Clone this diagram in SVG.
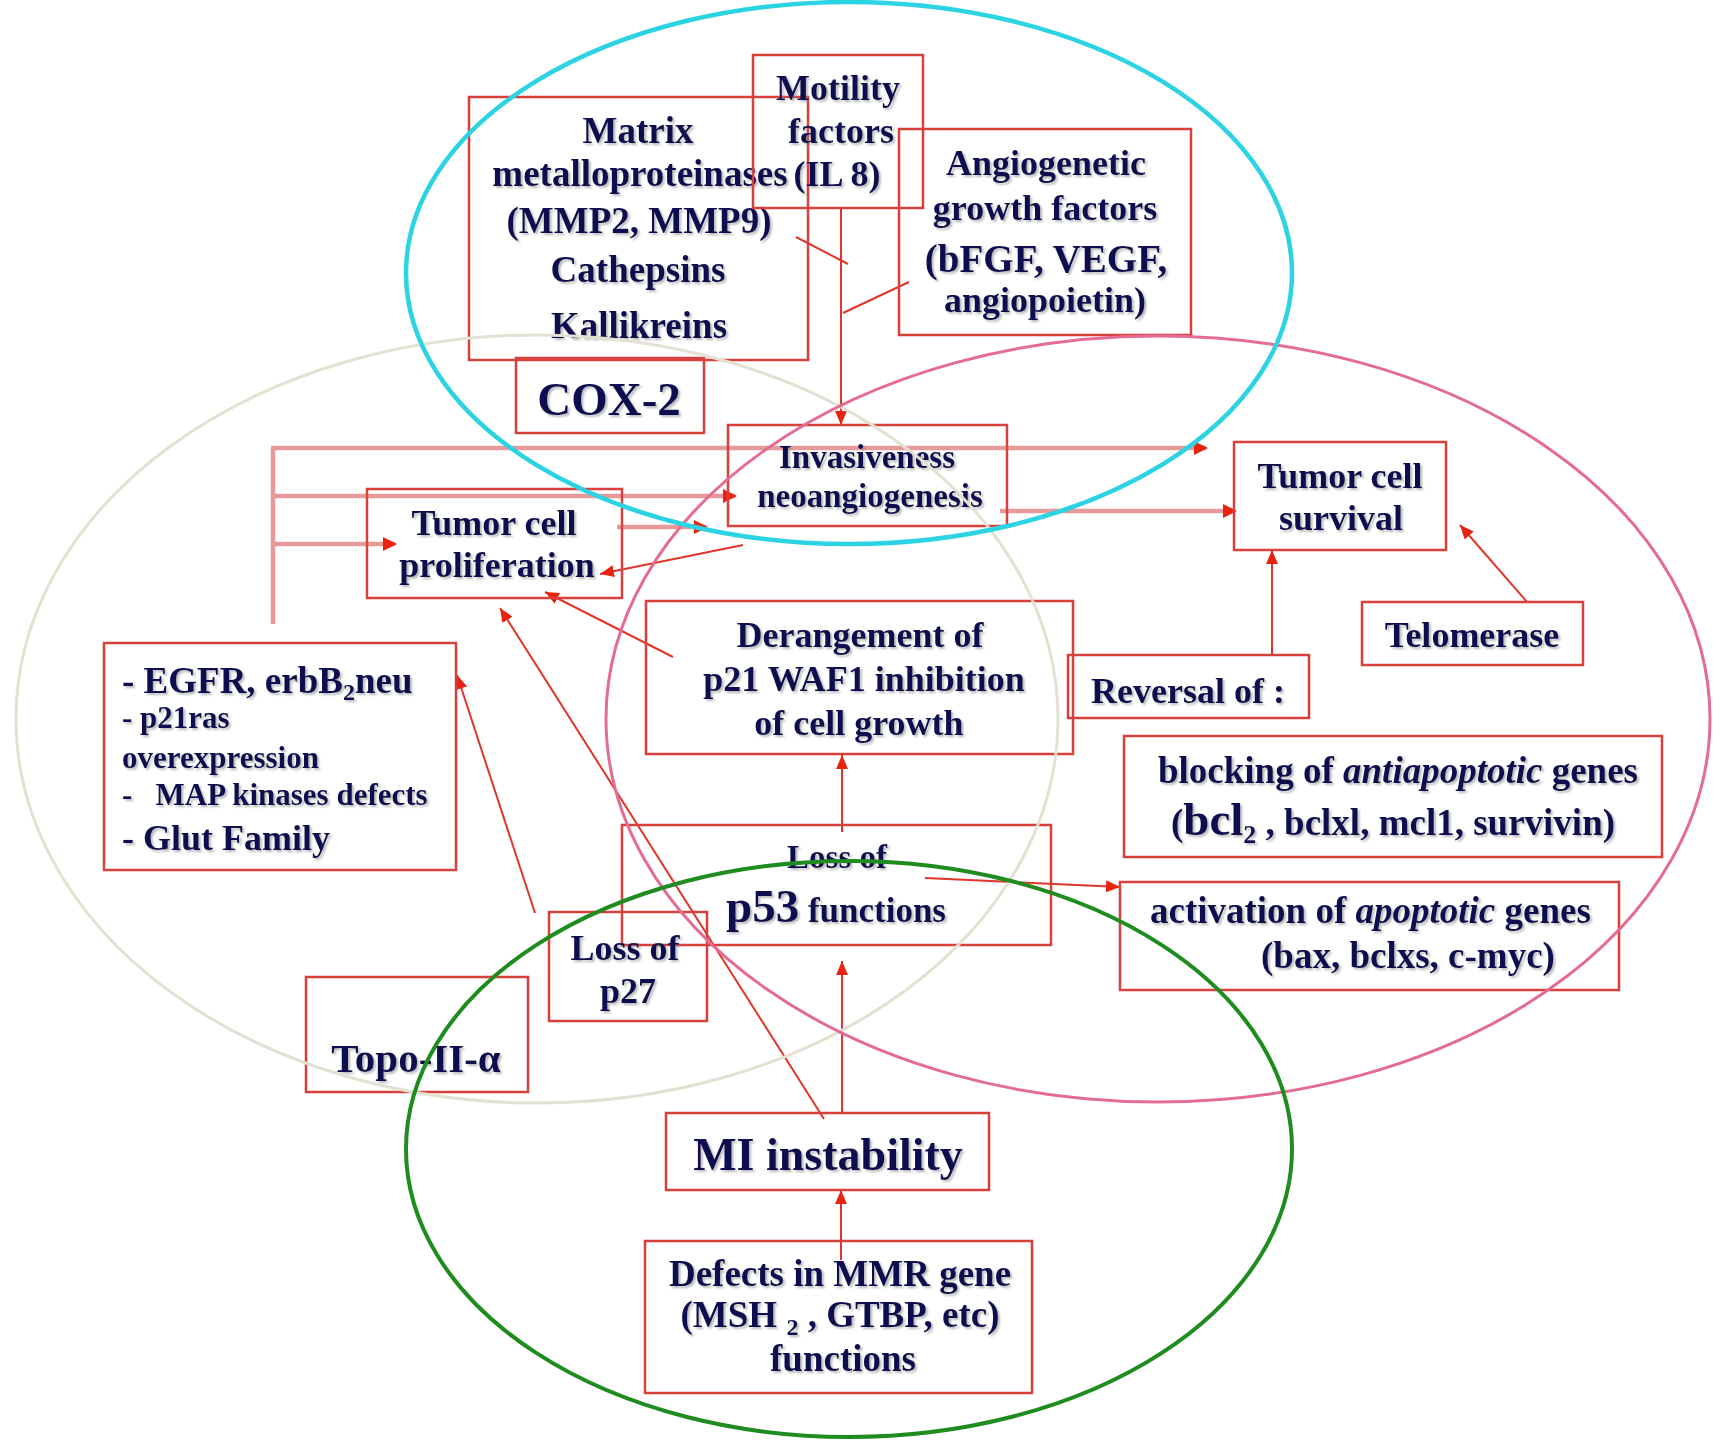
<svg xmlns="http://www.w3.org/2000/svg" width="1713" height="1440" viewBox="0 0 1713 1440" font-size="36">
<defs>
<style>
.bx{fill:none;stroke:#d8403c;stroke-width:2.5}
.t{font-family:"Liberation Serif","Times New Roman",serif;font-weight:bold;fill:#0d1150;text-anchor:middle;filter:url(#sh)}
.l{text-anchor:start}
.thin{fill:none;stroke:#e0352a;stroke-width:2}
.thick{fill:none;stroke:#e89a9a;stroke-width:4.5}
.el{fill:none}
</style>
<filter id="sh" x="-5%" y="-20%" width="110%" height="140%">
<feDropShadow dx="2" dy="2" stdDeviation="1.2" flood-color="#808080" flood-opacity="0.55"/>
</filter>
<marker id="ah" viewBox="0 0 14 12" refX="14" refY="6" markerWidth="14" markerHeight="12" markerUnits="userSpaceOnUse" orient="auto">
<path d="M0,0 L14,6 L0,12 z" fill="#e8230f"/>
</marker>
</defs>
<rect width="1713" height="1440" fill="#ffffff"/>

<g id="connectors">
<line class="thin" x1="841" y1="208" x2="841" y2="425" marker-end="url(#ah)"/>
<line class="thin" x1="796" y1="237" x2="848" y2="264"/>
<line class="thin" x1="909" y1="282" x2="843" y2="313"/>
<line class="thick" x1="273" y1="448" x2="273" y2="624"/>
<line class="thick" x1="271" y1="448" x2="1206" y2="448"/>
<path d="M1194,441 L1208,448 L1194,455 z" fill="#e8230f"/>
<line class="thick" x1="273" y1="496" x2="735" y2="496"/>
<path d="M723,489 L737,496 L723,503 z" fill="#e8230f"/>
<line class="thick" x1="273" y1="544" x2="395" y2="544"/>
<path d="M383,537 L397,544 L383,551 z" fill="#e8230f"/>
<line class="thick" x1="617" y1="527" x2="706" y2="527"/>
<path d="M694,520 L708,527 L694,534 z" fill="#e8230f"/>
<line class="thin" x1="743" y1="545" x2="600" y2="574" marker-end="url(#ah)"/>
<line class="thick" x1="1000" y1="511" x2="1235" y2="511"/>
<path d="M1223,504 L1237,511 L1223,518 z" fill="#e8230f"/>
<line class="thin" x1="1272" y1="655" x2="1272" y2="550" marker-end="url(#ah)"/>
<line class="thin" x1="1527" y1="602" x2="1460" y2="525" marker-end="url(#ah)"/>
<line class="thin" x1="673" y1="657" x2="545" y2="592" marker-end="url(#ah)"/>
<line class="thin" x1="842" y1="832" x2="842" y2="755" marker-end="url(#ah)"/>
<line class="thin" x1="925" y1="878" x2="1120" y2="887" marker-end="url(#ah)"/>
<line class="thin" x1="842" y1="1113" x2="842" y2="961" marker-end="url(#ah)"/>
<line class="thin" x1="824" y1="1119" x2="500" y2="608" marker-end="url(#ah)"/>
<line class="thin" x1="535" y1="913" x2="457" y2="675" marker-end="url(#ah)"/>
<line class="thin" x1="841" y1="1260" x2="841" y2="1190" marker-end="url(#ah)"/>
</g>

<g id="matrix" font-size="37">
<rect class="bx" x="469" y="97" width="339" height="263"/>
<text class="t" x="638" y="143">Matrix</text>
<text class="t" x="640" y="186">metalloproteinases</text>
<text class="t" x="639" y="233">(MMP2, MMP9)</text>
<text class="t" x="638" y="282">Cathepsins</text>
<text class="t" x="639" y="338">Kallikreins</text>
</g>

<g id="motility">
<rect class="bx" x="753" y="55" width="170" height="153"/>
<text class="t" x="838" y="100">Motility</text>
<text class="t" x="841" y="143">factors</text>
<text class="t" x="837" y="186">(IL 8)</text>
</g>

<g id="angiogenetic">
<rect class="bx" x="899" y="129" width="292" height="206"/>
<text class="t" x="1046" y="175">Angiogenetic</text>
<text class="t" x="1045" y="220">growth factors</text>
<text class="t" x="1046" y="272" font-size="39">(bFGF, VEGF,</text>
<text class="t" x="1045" y="312">angiopoietin)</text>
</g>

<g id="cox2">
<rect class="bx" x="516" y="358" width="188" height="75"/>
<text class="t" x="609" y="415" font-size="47">COX-2</text>
</g>

<g id="invasiveness">
<rect class="bx" x="728" y="425" width="279" height="101"/>
<text class="t" x="867" y="468" font-size="33">Invasiveness</text>
<text class="t" x="870" y="507" font-size="33">neoangiogenesis</text>
</g>

<g id="proliferation">
<rect class="bx" x="367" y="489" width="255" height="109"/>
<text class="t" x="494" y="535">Tumor cell</text>
<text class="t" x="497" y="577">proliferation</text>
</g>

<g id="survival">
<rect class="bx" x="1234" y="442" width="212" height="108"/>
<text class="t" x="1340" y="488">Tumor cell</text>
<text class="t" x="1341" y="530">survival</text>
</g>

<g id="telomerase">
<rect class="bx" x="1362" y="602" width="221" height="63"/>
<text class="t" x="1472" y="647">Telomerase</text>
</g>

<g id="derangement">
<rect class="bx" x="646" y="601" width="427" height="153"/>
<text class="t" x="860" y="647">Derangement of</text>
<text class="t" x="864" y="691">p21 WAF1 inhibition</text>
<text class="t" x="859" y="735">of cell growth</text>
</g>

<g id="reversal">
<rect class="bx" x="1068" y="655" width="241" height="63"/>
<text class="t" x="1188" y="703">Reversal of :</text>
</g>

<g id="blocking" font-size="37">
<rect class="bx" x="1124" y="736" width="538" height="121"/>
<text class="t" x="1398" y="783">blocking of <tspan font-style="italic">antiapoptotic</tspan> genes</text>
<text class="t" x="1393" y="835">(<tspan font-size="47">bcl</tspan><tspan font-size="26" dy="8">2</tspan><tspan dy="-8"> , bclxl, mcl1, survivin)</tspan></text>
</g>

<g id="activation" font-size="37">
<rect class="bx" x="1120" y="882" width="499" height="108"/>
<text class="t l" x="1150" y="923">activation of <tspan font-style="italic">apoptotic</tspan> genes</text>
<text class="t l" x="1261" y="968">(bax, bclxs, c-myc)</text>
</g>

<g id="egfr">
<rect class="bx" x="104" y="643" width="352" height="227"/>
<text class="t l" x="122" y="693" font-size="37">- EGFR, erbB<tspan font-size="24" dy="7">2</tspan><tspan dy="-7">neu</tspan></text>
<text class="t l" x="122" y="728" font-size="31">- p21ras</text>
<text class="t l" x="122" y="768" font-size="31">overexpression</text>
<text class="t l" x="122" y="805" font-size="31" style="white-space:pre">-   MAP kinases defects</text>
<text class="t l" x="122" y="850">- Glut Family</text>
</g>

<g id="p53">
<rect class="bx" x="622" y="825" width="429" height="120"/>
<text class="t" x="837" y="868" font-size="33">Loss of</text>
<text class="t" x="836" y="922" font-size="35"><tspan font-size="47">p53</tspan> functions</text>
</g>

<g id="p27">
<rect class="bx" x="549" y="912" width="158" height="109"/>
<text class="t" x="625" y="960">Loss of</text>
<text class="t" x="628" y="1003">p27</text>
</g>

<g id="topo">
<rect class="bx" x="306" y="977" width="222" height="115"/>
<text class="t" x="416" y="1072" font-size="41">Topo-II-α</text>
</g>

<g id="mi">
<rect class="bx" x="666" y="1113" width="323" height="77"/>
<text class="t" x="828" y="1170" font-size="46">MI instability</text>
</g>

<g id="defects" font-size="37">
<rect class="bx" x="645" y="1241" width="387" height="152"/>
<text class="t" x="840" y="1286">Defects in MMR gene</text>
<text class="t" x="840" y="1327">(MSH <tspan font-size="24" dy="8">2</tspan><tspan dy="-8"> , GTBP, etc)</tspan></text>
<text class="t" x="843" y="1371">functions</text>
</g>

<g id="ellipses">
<ellipse class="el" cx="537" cy="719" rx="521" ry="384" stroke="#e4e0d2" stroke-width="3"/>
<ellipse class="el" cx="1158" cy="719" rx="552" ry="383" stroke="#e46b94" stroke-width="3"/>
<ellipse class="el" cx="849" cy="273" rx="443" ry="271" stroke="#2bd3e3" stroke-width="4.5"/>
<ellipse class="el" cx="849" cy="1149" rx="443" ry="288" stroke="#1f8c1f" stroke-width="4"/>
</g>
</svg>
